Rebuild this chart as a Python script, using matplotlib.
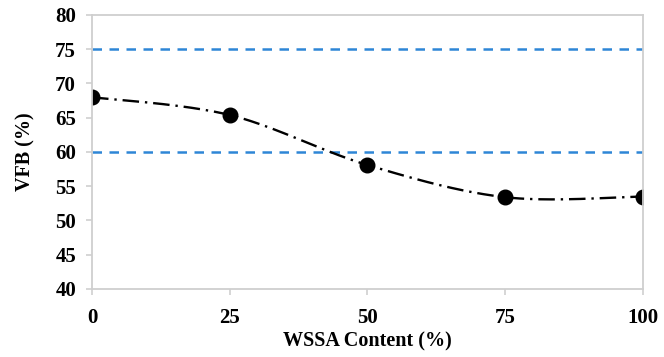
import numpy as np
import matplotlib
matplotlib.use("Agg")
import matplotlib.pyplot as plt

# Data
wssa = [0, 25, 50, 75, 100]
vfb = [68.0, 65.4, 58.1, 53.4, 53.5]
limit_low = 60
limit_high = 75


def smooth_curve(x, y, n=40):
    # Catmull-Rom spline through the points (like Excel's smoothed line)
    p = np.column_stack([x, y]).astype(float)
    p = np.vstack([p[0], p, p[-1]])
    out = []
    t = np.linspace(0, 1, n)[:, None]
    for i in range(1, len(p) - 2):
        p0, p1, p2, p3 = p[i - 1], p[i], p[i + 1], p[i + 2]
        c1 = p1 + (p2 - p0) / 6
        c2 = p2 - (p3 - p1) / 6
        seg = ((1 - t) ** 3) * p1 + 3 * ((1 - t) ** 2) * t * c1 + 3 * (1 - t) * t ** 2 * c2 + t ** 3 * p2
        out.append(seg)
    seg = np.vstack(out)
    return seg[:, 0], seg[:, 1]


plt.rcParams['font.family'] = ['Liberation Serif', 'DejaVu Serif']
plt.rcParams['font.weight'] = 'bold'

fig = plt.figure(figsize=(6.64, 3.57), dpi=100)
ax = fig.add_axes([0.1386, 0.1905, 0.8294, 0.7675])

ax.axhline(limit_high, color='#2E86D6', lw=1.8, dashes=(3.8, 3))
ax.axhline(limit_low, color='#2E86D6', lw=1.8, dashes=(3.8, 3))

sx, sy = smooth_curve(wssa, vfb)
ax.plot(sx, sy, color='black', lw=1.7, dashes=(7, 2.5, 1, 2.5))
ax.plot(wssa, vfb, 'o', color='black', markersize=10.5)

ax.set_xlim(0, 100)
ax.set_ylim(40, 80)
ax.set_xticks([0, 25, 50, 75, 100])
ax.set_yticks(range(40, 81, 5))

for s in ax.spines.values():
    s.set_color('#CFCFCF')
    s.set_linewidth(1.3)
ax.tick_params(colors='#CFCFCF', labelcolor='black', labelsize=15, length=4.5, width=1.2)
ax.tick_params(axis='y', pad=7)
ax.tick_params(axis='x', pad=9)
for lbl in ax.get_xticklabels() + ax.get_yticklabels():
    lbl.set_fontweight('bold')

ax.set_xlabel("WSSA Content (%)", fontsize=14.5, fontweight='bold', labelpad=3)
ax.set_ylabel("VFB (%)", fontsize=14.5, fontweight='bold', labelpad=14)

fig.savefig("out.png", dpi=100)
